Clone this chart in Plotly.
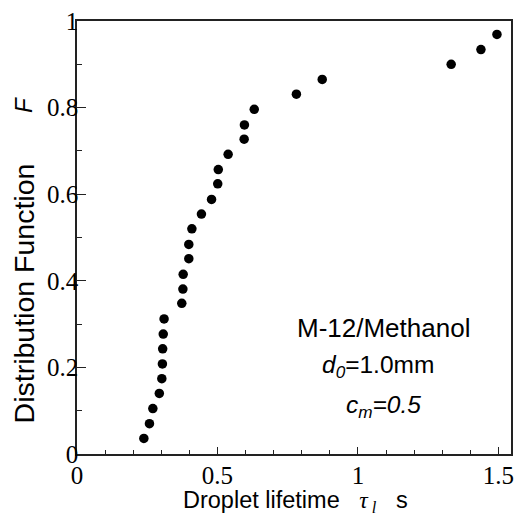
import plotly.graph_objects as go

lifetime = [0.238, 0.258, 0.270, 0.293, 0.302, 0.304, 0.305, 0.307, 0.310, 0.373,
            0.377, 0.378, 0.398, 0.398, 0.409, 0.443, 0.479, 0.501, 0.503, 0.538,
            0.595, 0.596, 0.631, 0.781, 0.873, 1.332, 1.438, 1.495]
F_values = [0.036, 0.070, 0.105, 0.140, 0.174, 0.208, 0.243, 0.277, 0.312, 0.348,
            0.381, 0.415, 0.451, 0.484, 0.520, 0.554, 0.588, 0.624, 0.657, 0.692,
            0.727, 0.760, 0.796, 0.831, 0.865, 0.900, 0.934, 0.969]

x_ticks = [0, 0.5, 1, 1.5]
x_tick_text = ["0", "0.5", "1", "1.5"]
y_ticks = [0, 0.2, 0.4, 0.6, 0.8, 1]
y_tick_text = ["0", "0.2", "0.4", "0.6", "0.8", "1"]

serif = "Liberation Serif, Times New Roman, serif"
sans = "Liberation Sans, Arial, sans-serif"

fig = go.Figure()
fig.add_trace(go.Scatter(x=lifetime, y=F_values, mode="markers",
                         marker=dict(color="black", size=9.5), showlegend=False))

axis_common = dict(showgrid=False, zeroline=False, showline=True, linecolor="#222",
                   linewidth=1.5, mirror=True, ticks="inside", tickcolor="#222",
                   tickwidth=1, tickfont=dict(family=serif, size=25, color="black"))

fig.update_xaxes(range=[0, 1.545], tickvals=x_ticks, ticktext=x_tick_text,
                 ticklen=7, ticklabelstandoff=-2,
                 minor=dict(dtick=0.1, tick0=0, ticks="inside", ticklen=4,
                            tickcolor="#222", tickwidth=1),
                 **axis_common)
fig.update_yaxes(range=[0, 1], tickvals=y_ticks, ticktext=y_tick_text,
                 ticklen=9, ticklabelstandoff=-8,
                 minor=dict(dtick=0.1, tick0=0, ticks="inside", ticklen=5,
                            tickcolor="#222", tickwidth=1),
                 **axis_common)

annotations = [
    dict(x=0.240, y=-0.112, xref="paper", yref="paper", xanchor="left", yanchor="middle",
         text="Droplet lifetime &nbsp;&nbsp;<span style='font-family:Liberation Serif'><i>τ<sub> l</sub></i></span>&nbsp;&nbsp; s",
         font=dict(family=sans, size=23.5, color="black"), showarrow=False),
    dict(x=-0.123, y=0.370, xref="paper", yref="paper", xanchor="center", yanchor="middle",
         text="Distribution Function", textangle=-90,
         font=dict(family=sans, size=28.5, color="black"), showarrow=False),
    dict(x=-0.123, y=0.805, xref="paper", yref="paper", xanchor="center", yanchor="middle",
         text="<i>F</i>", textangle=-90,
         font=dict(family=sans, size=24, color="black"), showarrow=False),
    dict(x=1.092, y=0.292, xref="x", yref="y", xanchor="center", yanchor="middle",
         text="M-12/Methanol", font=dict(family=sans, size=26, color="black"), showarrow=False),
    dict(x=1.072, y=0.203, xref="x", yref="y", xanchor="center", yanchor="middle",
         text="<i>d<sub>0</sub></i>=1.0mm", font=dict(family=sans, size=24.5, color="black"), showarrow=False),
    dict(x=1.092, y=0.110, xref="x", yref="y", xanchor="center", yanchor="middle",
         text="<i>c<sub>m</sub>=0.5</i>", font=dict(family=sans, size=24.5, color="black"), showarrow=False),
]

fig.update_layout(width=522, height=514, margin=dict(l=77, r=8, t=19, b=60),
                  plot_bgcolor="white", paper_bgcolor="white", annotations=annotations)

fig.write_html("out.html")
